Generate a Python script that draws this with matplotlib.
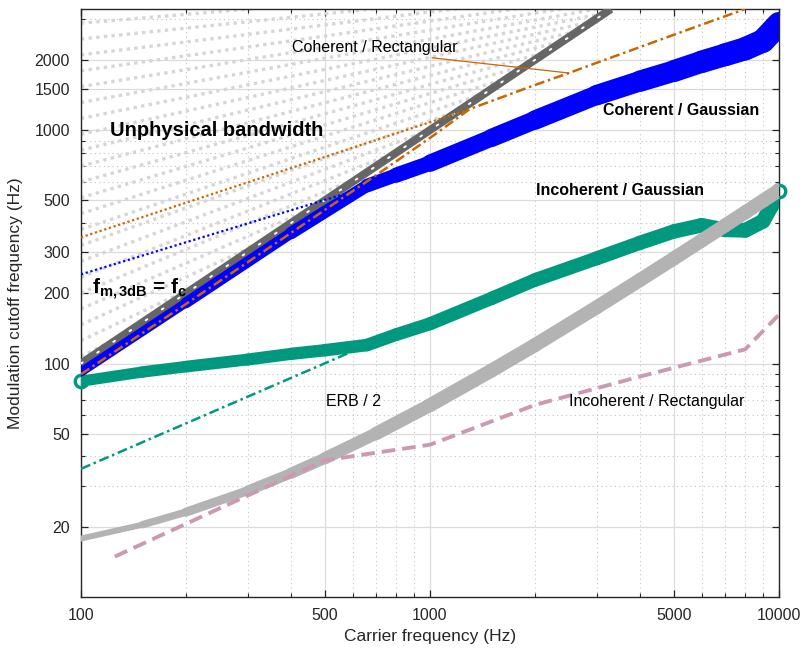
import numpy as np
import matplotlib.pyplot as plt
from matplotlib.collections import LineCollection
from matplotlib.ticker import FixedLocator, NullFormatter, LogLocator

plt.rcParams['font.family'] = ['Liberation Sans', 'DejaVu Sans']
plt.rcParams['mathtext.fontset'] = 'custom'
plt.rcParams['mathtext.rm'] = 'Liberation Sans'
plt.rcParams['mathtext.it'] = 'Liberation Sans:italic'
plt.rcParams['mathtext.bf'] = 'Liberation Sans:bold'

# 载波频率 (Hz) 与调制截止频率 (Hz)
coh_gauss_fc = [100, 200, 400, 660, 800, 1000, 1500, 2000, 3000, 4000, 5000, 6000, 7000, 8000, 9000, 10000]
coh_gauss_fm = [92, 182, 362, 578, 641, 721, 925, 1104, 1410, 1620, 1790, 1960, 2100, 2230, 2410, 2850]
coh_gauss_asym_fc = [100, 660]
coh_gauss_asym_fm = [241, 570]

coh_rect_fc = [100, 200, 400, 700, 1000, 1300, 2000, 2500, 3000, 5000, 8000]
coh_rect_fm = [90, 180, 363, 640, 925, 1230, 1560, 1755, 1940, 2560, 3300]
coh_rect_asym_fc = [100, 1300]
coh_rect_asym_fm = [347, 1230]

inc_gauss_fc = [100, 150, 200, 300, 400, 500, 660, 800, 1000, 1500, 2000, 3000, 4000, 5000, 6000, 7000, 8000, 9000, 9500, 10000]
inc_gauss_fm = [84, 92, 97, 104, 110, 114, 120, 133, 148, 190, 228, 282, 329, 368, 391, 374, 372, 407, 470, 550]
inc_gauss_asym_fc = [100, 660]
inc_gauss_asym_fm = [35.4, 120]

erb_fc = [100, 150, 200, 300, 400, 500, 700, 1000, 1500, 2000, 3000, 4000, 5000, 6000, 7000, 8000, 9000, 10000]
erb_fm = [17.8, 20.4, 23.1, 28.5, 33.9, 39.3, 50.1, 66.3, 93.3, 120, 174, 228, 282, 336, 390, 444, 498, 552]

inc_rect_fc = [125, 250, 500, 1000, 2000, 4000, 8000, 10000]
inc_rect_fm = [14.9, 24.0, 38.5, 44.9, 66.5, 88, 115, 162]

diag_fc = [100, 3300]
diag_fm = [100, 3300]

xlim = (100, 10000)
ylim = (10, 3300)

c_blue = '#0000ff'
c_green = '#00997f'
c_orange = '#cc6600'
c_pink = '#cc99b3'
c_erb = '#b3b3b3'
c_diag = '#666666'
c_hatch = '#d6d6d6'


def band(ax, f, y, w_knots, color, z):
    # 粗线带：线宽随频率变化
    f = np.asarray(f, float)
    y = np.asarray(y, float)
    pts = np.column_stack([f, y]).reshape(-1, 1, 2)
    segs = np.concatenate([pts[:-1], pts[1:]], axis=1)
    lf = np.log10(0.5 * (f[:-1] + f[1:]))
    lw = np.interp(lf, w_knots[0], w_knots[1]) * 0.72
    lc = LineCollection(segs, colors=color, linewidths=lw, capstyle='round',
                        joinstyle='round', zorder=z)
    ax.add_collection(lc)


fig = plt.figure(figsize=(8.03, 6.55), dpi=100)
ax = fig.add_axes([81 / 803, 1 - 597 / 655, 698 / 803, 588 / 655])
ax.set_xscale('log')
ax.set_yscale('log')
ax.set_xlim(*xlim)
ax.set_ylim(*ylim)

# 非物理区域的阴影线
lx0 = np.log10(xlim[0])
px, py = 4.33, 3.75
for h in np.arange(0.03, 1.53, 0.068):
    m = (py - lx0 - h) / (px - lx0)
    t = h / (1 - m)
    xs = [lx0, lx0 + t]
    ys = [lx0 + h, lx0 + h + m * t]
    ax.plot(10 ** np.array(xs), 10 ** np.array(ys), color=c_hatch, lw=2.4,
            linestyle=(0, (1, 1.3)), dash_capstyle='butt', zorder=1)

# 各条曲线
band(ax, inc_gauss_fc, inc_gauss_fm, ([2, 4], [11, 15]), c_green, 3)
ax.plot([inc_gauss_fc[0], inc_gauss_fc[-1]], [inc_gauss_fm[0], inc_gauss_fm[-1]], 'o',
        mfc='none', mec=c_green, ms=9, mew=2.4, zorder=3.1, clip_on=False)
ax.plot(inc_gauss_asym_fc, inc_gauss_asym_fm, color=c_green, lw=1.8, ls=(0, (4, 1.5, 1, 1.5)), zorder=3)

band(ax, erb_fc, erb_fm, ([2, 2.5, 3, 4], [5, 10, 14, 14]), c_erb, 4)
ax.plot(inc_rect_fc, inc_rect_fm, color=c_pink, lw=2.8, ls=(0, (3.5, 1.8)), zorder=4.5)

ax.plot(diag_fc, diag_fm, color=c_diag, lw=5.8, solid_capstyle='butt', zorder=5)
ax.plot(diag_fc, diag_fm, color='white', lw=1.4, ls=(0, (1, 9)), dash_capstyle='round', zorder=5.1)

band(ax, coh_gauss_fc, coh_gauss_fm, ([2, 2.82, 3.06, 3.48, 4], [8, 13, 17, 20, 24]), c_blue, 6)
ax.plot(coh_gauss_asym_fc, coh_gauss_asym_fm, color=c_blue, lw=1.6, ls=(0, (1, 1.2)), zorder=6)

ax.plot(coh_rect_fc, coh_rect_fm, color=c_orange, lw=1.8, ls=(0, (4, 1.5, 1, 1.5)), zorder=7)
ax.plot(coh_rect_asym_fc, coh_rect_asym_fm, color=c_orange, lw=1.6, ls=(0, (1, 1.2)), zorder=7)

# 文字标注
ax.text(0.0415, 0.794, 'Unphysical bandwidth', transform=ax.transAxes, fontsize=14.5,
        fontweight='bold', va='center', ha='left', zorder=10)
ax.text(0.302, 0.934, 'Coherent / Rectangular', transform=ax.transAxes, fontsize=11.5,
        va='center', ha='left', zorder=10)
ax.text(0.748, 0.828, 'Coherent / Gaussian', transform=ax.transAxes, fontsize=11.5,
        fontweight='bold', va='center', ha='left', zorder=10)
ax.text(0.652, 0.692, 'Incoherent / Gaussian', transform=ax.transAxes, fontsize=11.5,
        fontweight='bold', va='center', ha='left', zorder=10)
ax.text(0.351, 0.333, 'ERB / 2', transform=ax.transAxes, fontsize=11.5,
        va='center', ha='left', zorder=10)
ax.text(0.699, 0.333, 'Incoherent / Rectangular', transform=ax.transAxes, fontsize=11.5,
        va='center', ha='left', zorder=10)
ax.text(0.016, 0.515, r'$\mathbf{f_{m,3dB}}$ = $\mathbf{f_c}$', transform=ax.transAxes,
        fontsize=15, fontweight='bold', va='baseline', ha='left', zorder=10)
ax.annotate('', xy=(coh_rect_fc[7], coh_rect_fm[7]), xycoords='data',
            xytext=(0.503, 0.917), textcoords='axes fraction',
            arrowprops=dict(arrowstyle='-', color=c_orange, lw=0.9, shrinkA=0, shrinkB=0),
            zorder=8)

# 坐标轴
xticks = [100, 500, 1000, 5000, 10000]
yticks = [20, 50, 100, 200, 300, 500, 1000, 1500, 2000]
ax.xaxis.set_major_locator(FixedLocator(xticks))
ax.yaxis.set_major_locator(FixedLocator(yticks))
ax.set_xticklabels([str(t) for t in xticks])
ax.set_yticklabels([str(t) for t in yticks])
ax.xaxis.set_minor_locator(LogLocator(base=10, subs=np.arange(2, 10)))
ax.yaxis.set_minor_locator(LogLocator(base=10, subs=np.arange(2, 10)))
ax.xaxis.set_minor_formatter(NullFormatter())
ax.yaxis.set_minor_formatter(NullFormatter())

ax.set_axisbelow(True)
ax.grid(True, which='major', color='#dcdcdc', lw=0.9, ls='-')
ax.grid(True, which='minor', color='#c4c4c4', lw=0.8, ls=(0, (1, 3)))

ax.tick_params(which='both', direction='in', top=True, right=True, colors='#262626',
               labelsize=11.5, labelcolor='#262626')
ax.tick_params(which='major', length=5, width=0.9, pad=8)
ax.tick_params(which='minor', length=3, width=0.8)
for s in ax.spines.values():
    s.set_color('#262626')
    s.set_linewidth(1.0)

ax.set_xlabel('Carrier frequency (Hz)', fontsize=12.5, color='#262626', labelpad=4)
ax.set_ylabel('Modulation cutoff frequency (Hz)', fontsize=12.5, color='#262626', labelpad=8)

fig.savefig('out.png', dpi=100)
